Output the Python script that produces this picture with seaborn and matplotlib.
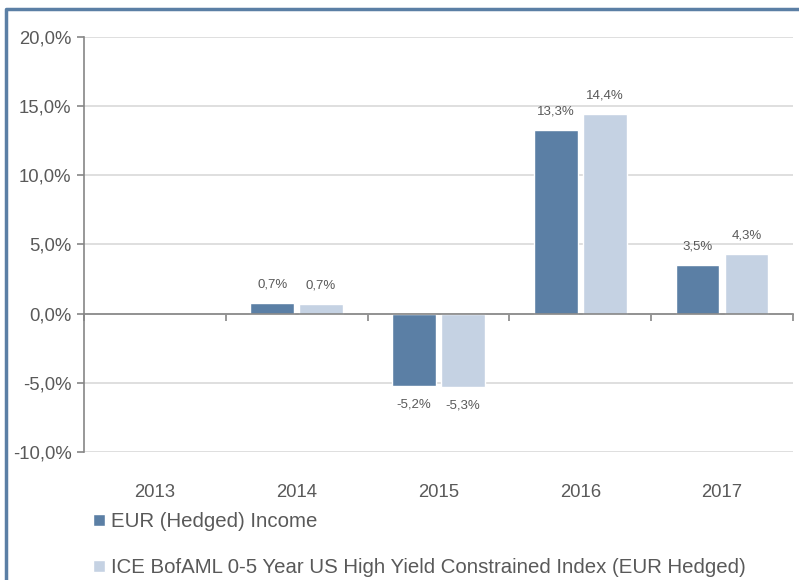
import pandas as pd
import numpy as np
import matplotlib.pyplot as plt
import seaborn as sns
from matplotlib.lines import Line2D
from matplotlib.ticker import FuncFormatter

# chart data
years = ["2013", "2014", "2015", "2016", "2017"]
fund = [np.nan, 0.75, -5.2, 13.3, 3.5]
index = [np.nan, 0.7, -5.3, 14.4, 4.3]
series_names = ["EUR (Hedged) Income",
                "ICE BofAML 0-5 Year US High Yield Constrained Index (EUR Hedged)"]
fund_labels = ["", "0,7%", "-5,2%", "13,3%", "3,5%"]
index_labels = ["", "0,7%", "-5,3%", "14,4%", "4,3%"]

dark = "#5B7FA5"
light = "#C5D2E3"
text_col = "#595959"

df = pd.DataFrame({
    "year": years * 2,
    "value": fund + index,
    "series": [series_names[0]] * 5 + [series_names[1]] * 5,
})

sns.set_theme(style="white")
plt.rcParams["font.family"] = ["Liberation Sans", "DejaVu Sans"]

fig = plt.figure(figsize=(7.99, 5.80), dpi=100)
ax = fig.add_axes([0.105, 0.2207, 0.8875, 0.7155])

sns.barplot(data=df, x="year", y="value", hue="series", order=years,
            palette=[dark, light], saturation=1, width=0.69, gap=0.11, ax=ax)

ax.set_ylim(-10, 20)
ax.set_xlim(-0.5, 4.5)
ax.set_yticks([-10, -5, 0, 5, 10, 15, 20])
ax.yaxis.set_major_formatter(FuncFormatter(lambda v, p: f"{v:.1f}%".replace(".", ",")))
ax.grid(axis="y", color="#D9D9D9", linewidth=1.2)
ax.set_axisbelow(True)
ax.set_xlabel("")
ax.set_ylabel("")

for s in ["top", "right"]:
    ax.spines[s].set_visible(False)
ax.spines["left"].set_color("#868686")
ax.spines["left"].set_linewidth(1.2)
# zero line carries the category boundary ticks
ax.spines["bottom"].set_position(("data", 0))
ax.spines["bottom"].set_color("#868686")
ax.spines["bottom"].set_linewidth(1.2)
ax.set_xticks(np.arange(-0.5, 5, 1.0))
ax.set_xticklabels([])
ax.tick_params(axis="x", bottom=True, length=5, width=1.2, color="#868686", direction="out")
ax.tick_params(axis="y", left=True, length=5, width=1.2, color="#868686",
               labelsize=13.3, labelcolor=text_col, pad=4)

# year labels below the plot area
sec = ax.secondary_xaxis("bottom")
sec.set_xticks(range(len(years)))
sec.set_xticklabels(years)
sec.tick_params(length=0, pad=23, labelsize=13.3, labelcolor=text_col)
sec.spines["bottom"].set_visible(False)

for cont, labs in zip(ax.containers, [fund_labels, index_labels]):
    vals = list(cont.datavalues)
    lab = labs[-len(vals):]
    ax.bar_label(cont, labels=lab, padding=9, fontsize=9.5, color=text_col)

handles, labels = ax.get_legend_handles_labels()
ax.legend(handles, labels, loc="upper left", bbox_to_anchor=(0.117, 0.117),
          bbox_transform=fig.transFigure, frameon=False, fontsize=14.7,
          labelcolor=text_col, handlelength=0.55, handleheight=0.55,
          handletextpad=0.3, labelspacing=1.33, borderaxespad=0, borderpad=0)

# outer frame (left and top edges)
fig.add_artist(Line2D([6 / 799, 6 / 799, 1], [0, 1 - 9 / 580, 1 - 9 / 580],
                      transform=fig.transFigure, color=dark, linewidth=2.5))

fig.savefig("out.png", dpi=100)
